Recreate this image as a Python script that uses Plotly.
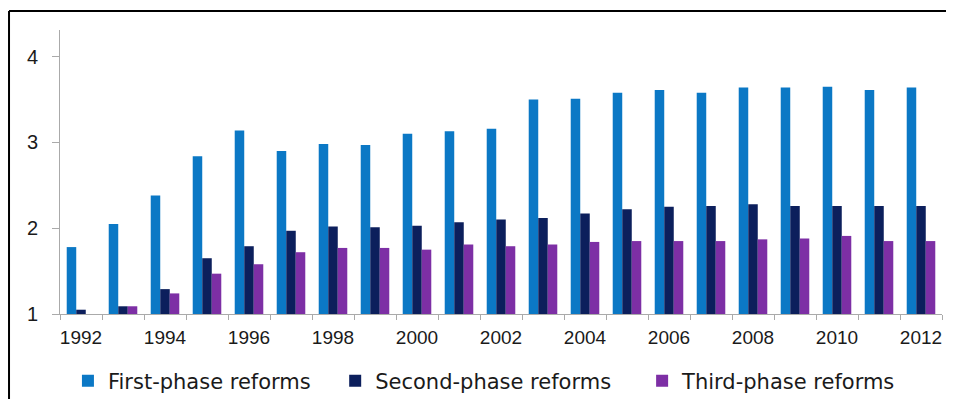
import plotly.graph_objects as go

years = list(range(1992, 2013))
first_phase = [1.78, 2.05, 2.38, 2.84, 3.14, 2.90, 2.98, 2.97, 3.10, 3.13, 3.16,
               3.50, 3.51, 3.58, 3.61, 3.58, 3.64, 3.64, 3.65, 3.61, 3.64]
second_phase = [1.05, 1.09, 1.29, 1.65, 1.79, 1.97, 2.02, 2.01, 2.03, 2.07, 2.10,
                2.12, 2.17, 2.22, 2.25, 2.26, 2.28, 2.26, 2.26, 2.26, 2.26]
third_phase = [1.00, 1.09, 1.24, 1.47, 1.58, 1.72, 1.77, 1.77, 1.75, 1.81, 1.79,
               1.81, 1.84, 1.85, 1.85, 1.85, 1.87, 1.88, 1.91, 1.85, 1.85]
tick_years = list(range(1992, 2013, 2))
y_ticks = [1, 2, 3, 4]

names = ["First-phase reforms", "Second-phase reforms", "Third-phase reforms"]
colors = ["#0b78c5", "#0c1f5c", "#7d2fa5"]
series = [first_phase, second_phase, third_phase]
legend_ids = ["legend", "legend2", "legend3"]
legend_x = [0.009, 0.312, 0.660]

fig = go.Figure()
for name, col, vals, lid in zip(names, colors, series, legend_ids):
    fig.add_trace(go.Bar(
        x=years, y=[v - 1 for v in vals], base=1, name=name,
        marker=dict(color=col, line=dict(width=0)), legend=lid,
    ))

font_family = "Liberation Sans, Arial, sans-serif"
legend_font = dict(family="DejaVu Sans, sans-serif", size=21, color="#1a1a1a")
legend_common = dict(orientation="h", xanchor="left", y=-0.236, yanchor="middle",
                     font=legend_font, bgcolor="rgba(0,0,0,0)")

# the page body has an 8px margin, so the figure is sized to the visible area
fig.update_layout(
    width=946, height=391,
    margin=dict(l=52, r=12, t=22, b=85, autoexpand=False),
    paper_bgcolor="white", plot_bgcolor="white",
    barmode="group", bargap=0.32, bargroupgap=0,
    font=dict(family=font_family, color="#1a1a1a"),
    showlegend=True,
    legend=dict(x=legend_x[0], **legend_common),
    legend2=dict(x=legend_x[1], **legend_common),
    legend3=dict(x=legend_x[2], **legend_common),
    xaxis=dict(
        type="linear", range=[1991.5, 2012.5],
        tickmode="array", tickvals=tick_years, ticktext=[str(y) for y in tick_years],
        ticks="outside", ticklen=5, tickcolor="rgba(0,0,0,0)", tickfont=dict(size=19),
        ticklabelstandoff=1,
        showline=True, linecolor="#aaaaaa", linewidth=1,
        showgrid=False, zeroline=False,
        minor=dict(tickmode="linear", tick0=1991.5, dtick=1, ticks="outside",
                   ticklen=5, tickcolor="#aaaaaa", showgrid=False),
    ),
    yaxis=dict(
        range=[1, 4.31], tickmode="array", tickvals=y_ticks,
        ticks="outside", ticklen=7, tickcolor="#aaaaaa",
        tickfont=dict(size=20), ticklabelstandoff=10,
        showline=True, linecolor="#aaaaaa", linewidth=1,
        showgrid=False, zeroline=False,
    ),
    shapes=[
        dict(type="line", xref="paper", yref="paper",
             x0=-0.0578, x1=1.02, y0=1.0669, y1=1.0669,
             line=dict(color="black", width=2)),
        dict(type="line", xref="paper", yref="paper",
             x0=-0.0578, x1=-0.0578, y0=1.0669, y1=-0.31,
             line=dict(color="black", width=2)),
    ],
)

fig.write_html("out.html")
